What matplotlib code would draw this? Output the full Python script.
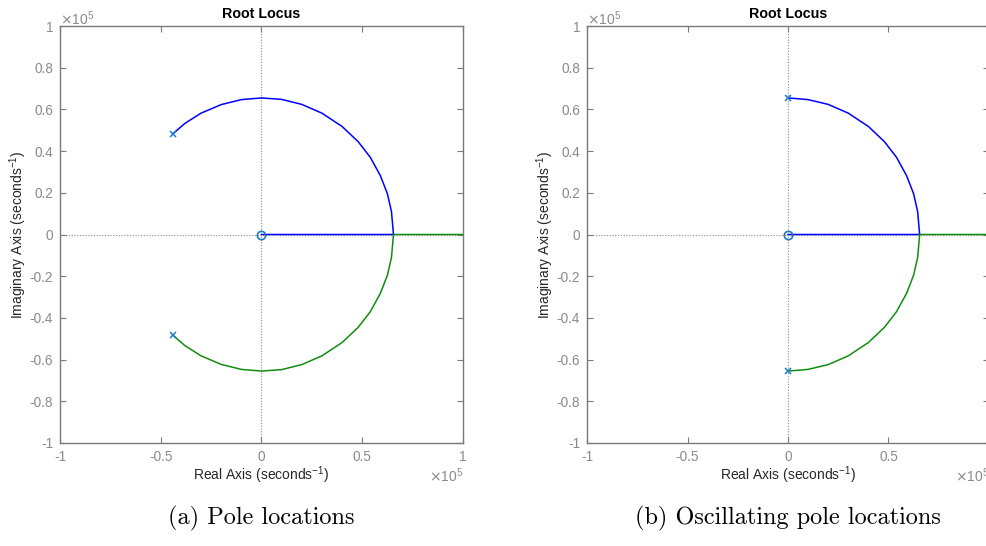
import numpy as np
import matplotlib as mpl
import matplotlib.pyplot as plt

mpl.rc('font', family='Liberation Sans', size=10)
mpl.rcParams['axes.unicode_minus'] = False

# values in units of 1e5 (seconds^-1)
# (a) pole locations
a_poles_re = [-0.44, -0.44]
a_poles_im = [0.483, -0.483]
a_zero_re = [0.0]
a_zero_im = [0.0]
a_upper_re = [-0.44, -0.38, -0.30, -0.20, -0.10, 0.0, 0.10, 0.20, 0.30, 0.40, 0.48, 0.54, 0.59, 0.625, 0.645, 0.655, 0.0]
a_upper_im = [0.483, 0.533, 0.582, 0.623, 0.647, 0.655, 0.648, 0.624, 0.582, 0.518, 0.445, 0.370, 0.282, 0.195, 0.110, 0.0, 0.0]
a_lower_re = [-0.44, -0.38, -0.30, -0.20, -0.10, 0.0, 0.10, 0.20, 0.30, 0.40, 0.48, 0.54, 0.59, 0.625, 0.645, 0.655, 1.05]
a_lower_im = [-0.483, -0.533, -0.582, -0.623, -0.647, -0.655, -0.648, -0.624, -0.582, -0.518, -0.445, -0.370, -0.282, -0.195, -0.110, 0.0, 0.0]

# (b) oscillating pole locations
b_poles_re = [0.0, 0.0]
b_poles_im = [0.655, -0.655]
b_zero_re = [0.0]
b_zero_im = [0.0]
b_upper_re = [0.0, 0.10, 0.20, 0.30, 0.40, 0.48, 0.54, 0.59, 0.625, 0.645, 0.655, 0.0]
b_upper_im = [0.655, 0.647, 0.624, 0.582, 0.518, 0.445, 0.370, 0.282, 0.195, 0.110, 0.0, 0.0]
b_lower_re = [0.0, 0.10, 0.20, 0.30, 0.40, 0.48, 0.54, 0.59, 0.625, 0.645, 0.655, 1.05]
b_lower_im = [-0.655, -0.647, -0.624, -0.582, -0.518, -0.445, -0.370, -0.282, -0.195, -0.110, 0.0, 0.0]

x_ticks = [-1, -0.5, 0, 0.5, 1]
y_ticks = [-1, -0.8, -0.6, -0.4, -0.2, 0, 0.2, 0.4, 0.6, 0.8, 1]
tick_lbl = lambda v: '{:g}'.format(v)

captions = ['(a) Pole locations', '(b) Oscillating pole locations']

gray = '#7a7a7a'
lblgray = '#8a8a8a'
mkc = '#1f78c8'

fig = plt.figure(figsize=(9.87, 5.46), dpi=100)
ax_a = fig.add_axes([60/987, 1-443/546, 403/987, 417/546])
ax_b = fig.add_axes([587/987, 1-443/546, 402/987, 417/546])

data = [
    (ax_a, a_poles_re, a_poles_im, a_zero_re, a_zero_im, a_upper_re, a_upper_im, a_lower_re, a_lower_im),
    (ax_b, b_poles_re, b_poles_im, b_zero_re, b_zero_im, b_upper_re, b_upper_im, b_lower_re, b_lower_im),
]

for i, (ax, pr, pi, zr, zi, ur, ui, lr, li) in enumerate(data):
    ax.axhline(0, color='#8c8c8c', ls=(0, (1, 1.5)), lw=0.8, zorder=1)
    ax.axvline(0, color='#8c8c8c', ls=(0, (1, 1.5)), lw=0.8, zorder=1)
    ax.plot(ur, ui, color='#0000ff', lw=1.1, zorder=3)
    ax.plot(lr, li, color='#118c11', lw=1.1, zorder=3)
    ax.plot(pr, pi, 'x', color=mkc, ms=5, mew=1.1, zorder=4)
    ax.plot(zr, zi, 'o', mfc='none', mec=mkc, ms=6, mew=1.2, zorder=4)

    ax.set_xlim(-1, 1)
    ax.set_ylim(-1, 1)
    ax.set_xticks(x_ticks)
    ax.set_yticks(y_ticks)
    ax.set_xticklabels([tick_lbl(v) for v in x_ticks])
    ax.set_yticklabels([tick_lbl(v) for v in y_ticks])
    ax.tick_params(direction='in', length=4, width=0.8, colors=gray, labelcolor=lblgray,
                   top=True, right=True, labelsize=9.8, pad=5)
    for s in ax.spines.values():
        s.set_color(gray)
        s.set_linewidth(1.0)

    ax.set_title('Root Locus', fontsize=10.3, fontweight='bold', pad=6)
    ax.set_xlabel('Real Axis (seconds$^{\\mathregular{-1}}$)', fontsize=10, color='#262626', labelpad=0)
    ax.set_ylabel('Imaginary Axis (seconds$^{\\mathregular{-1}}$)', fontsize=10, color='#262626')
    ax.yaxis.set_label_coords(-0.077, 0.5)

    ax.text(0.0, 0.996, '$\\times\\mathregular{10^{5}}$', transform=ax.transAxes,
            ha='left', va='bottom', fontsize=10, color=lblgray)
    ax.text(1.0, -0.057, '$\\times\\mathregular{10^{5}}$', transform=ax.transAxes,
            ha='right', va='top', fontsize=10, color=lblgray)

    ax.text(0.5, -0.15, captions[i], transform=ax.transAxes, ha='center', va='top',
            fontsize=17.5, family='cmr10')

fig.savefig('out.png', dpi=100)
